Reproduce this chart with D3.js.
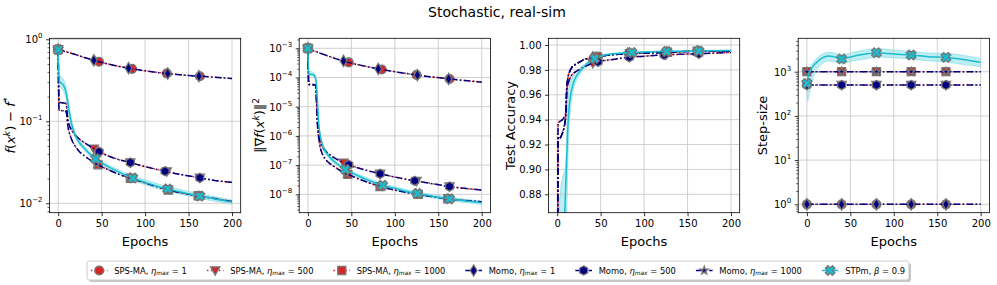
<!DOCTYPE html>
<html><head><meta charset="utf-8">
<script src="https://cdn.jsdelivr.net/npm/d3@7"></script>
<style>body{margin:0;background:#fff}svg{display:block;font-family:"DejaVu Sans",sans-serif}</style>
</head><body><svg id="c" width="997" height="285"></svg>
<script>
// ---------------- DATA ----------------
const epochs=[0,1,2,4,6,8,9,10,11,12,13,14,16,18,20,25,30,40,50,60,70,80,100,120,140,160,180,200];

const lossEta1=[0.75,0.745,0.74,0.73,0.72,0.71,0.705,0.70,0.695,0.69,0.685,0.68,0.67,0.66,0.65,0.625,0.60,0.558,0.522,0.492,0.467,0.446,0.412,0.388,0.37,0.356,0.344,0.333];
const lossEta500=[0.75,0.17,0.169,0.168,0.167,0.166,0.165,0.14,0.105,0.094,0.088,0.083,0.076,0.071,0.067,0.06,0.055,0.047,0.041,0.037,0.034,0.032,0.028,0.025,0.0225,0.0207,0.019,0.018];
const lossEta1000=[0.75,0.137,0.136,0.135,0.134,0.133,0.132,0.115,0.09,0.078,0.071,0.066,0.058,0.053,0.049,0.042,0.038,0.032,0.028,0.025,0.0225,0.0207,0.0177,0.0152,0.0135,0.0124,0.0114,0.0105];
const lossStp=[0.75,0.30,0.30,0.29,0.275,0.245,0.225,0.20,0.17,0.145,0.125,0.11,0.088,0.075,0.066,0.054,0.047,0.037,0.031,0.027,0.024,0.0215,0.018,0.0155,0.0138,0.0124,0.0113,0.0103];
const lossStpLo=[0.75,0.26,0.26,0.25,0.235,0.205,0.185,0.165,0.14,0.12,0.105,0.094,0.078,0.068,0.061,0.051,0.044,0.035,0.0293,0.0255,0.0226,0.0202,0.0168,0.0145,0.0129,0.0116,0.0106,0.0097];
const lossStpHi=[0.75,0.36,0.36,0.345,0.325,0.29,0.265,0.24,0.205,0.175,0.15,0.13,0.1,0.083,0.072,0.058,0.05,0.0392,0.0328,0.0286,0.0255,0.0229,0.0193,0.0166,0.0148,0.0133,0.0121,0.011];

const gradEta1=[1e-3,9.7e-4,9.4e-4,8.9e-4,8.4e-4,8e-4,7.8e-4,7.6e-4,7.4e-4,7.2e-4,7e-4,6.8e-4,6.5e-4,6.2e-4,5.9e-4,5.2e-4,4.6e-4,3.75e-4,3.1e-4,2.65e-4,2.3e-4,2.0e-4,1.58e-4,1.28e-4,1.07e-4,9.1e-5,7.9e-5,6.9e-5];
const gradEta500=[1e-3,5.8e-5,5.8e-5,5.7e-5,5.7e-5,5.6e-5,5.5e-5,1.5e-5,3e-6,1.4e-6,9e-7,6.5e-7,4.6e-7,3.7e-7,3.1e-7,2.3e-7,1.8e-7,1.25e-7,9.5e-8,7.6e-8,6.3e-8,5.3e-8,3.9e-8,3e-8,2.4e-8,1.9e-8,1.6e-8,1.4e-8];
const gradEta1000=[1e-3,5.8e-5,5.7e-5,5.7e-5,5.6e-5,5.5e-5,5.4e-5,1.2e-5,2.5e-6,1.1e-6,6.5e-7,4.3e-7,2.7e-7,2e-7,1.6e-7,1.15e-7,9e-8,5.9e-8,4.3e-8,3.2e-8,2.5e-8,1.95e-8,1.4e-8,1.07e-8,8.6e-9,7.1e-9,6.2e-9,5.6e-9];
const gradStp=[1e-3,1.3e-4,1.3e-4,1.3e-4,1.25e-4,1.1e-4,9e-5,5e-5,1.5e-5,4e-6,1.8e-6,1.1e-6,6e-7,4e-7,3e-7,1.9e-7,1.35e-7,8e-8,5.5e-8,4e-8,3e-8,2.3e-8,1.6e-8,1.15e-8,9e-9,7.2e-9,6e-9,5.1e-9];
const gradStpLo=[1e-3,1.15e-4,1.15e-4,1.15e-4,1.1e-4,9.5e-5,7.5e-5,3.8e-5,1.1e-5,3e-6,1.4e-6,8.8e-7,4.9e-7,3.3e-7,2.5e-7,1.6e-7,1.15e-7,6.9e-8,4.7e-8,3.4e-8,2.55e-8,1.95e-8,1.37e-8,9.9e-9,7.8e-9,6.2e-9,5.2e-9,4.5e-9];
const gradStpHi=[1e-3,1.6e-4,1.6e-4,1.6e-4,1.5e-4,1.3e-4,1.1e-4,6.5e-5,2e-5,5.3e-6,2.3e-6,1.4e-6,7.3e-7,4.8e-7,3.6e-7,2.2e-7,1.55e-7,9.2e-8,6.3e-8,4.6e-8,3.5e-8,2.65e-8,1.85e-8,1.32e-8,1.03e-8,8.2e-9,6.9e-9,5.8e-9];

const accEta1=[0.5,0.925,0.924,0.926,0.929,0.934,0.938,0.945,0.966,0.972,0.976,0.978,0.981,0.983,0.984,0.986,0.988,0.990,0.991,0.992,0.9925,0.993,0.9935,0.994,0.9945,0.995,0.995,0.995];
const accEta500=[0.5,0.937,0.938,0.939,0.940,0.942,0.943,0.946,0.962,0.967,0.970,0.972,0.975,0.977,0.978,0.980,0.982,0.985,0.987,0.988,0.989,0.990,0.991,0.992,0.9925,0.993,0.9935,0.994];
const accEta1000=[0.5,0.925,0.924,0.926,0.929,0.934,0.938,0.945,0.966,0.972,0.976,0.978,0.981,0.983,0.984,0.986,0.988,0.990,0.991,0.992,0.9925,0.993,0.9935,0.994,0.9945,0.995,0.995,0.995];
const accStp=[0.5,0.6,0.66,0.74,0.80,0.855,0.87,0.89,0.91,0.93,0.943,0.952,0.962,0.968,0.972,0.978,0.982,0.988,0.991,0.9925,0.9932,0.9938,0.9943,0.9947,0.995,0.9952,0.9954,0.9955];
const accStpLo=[0.5,0.5,0.55,0.62,0.70,0.76,0.80,0.83,0.86,0.895,0.92,0.935,0.952,0.961,0.967,0.975,0.98,0.987,0.990,0.9918,0.9926,0.9933,0.9939,0.9943,0.9946,0.9949,0.9951,0.9952];
const accStpHi=[0.5,0.80,0.86,0.885,0.893,0.898,0.90,0.91,0.935,0.955,0.963,0.968,0.972,0.975,0.977,0.981,0.984,0.989,0.992,0.9932,0.9938,0.9943,0.9947,0.9951,0.9954,0.9955,0.9957,0.9958];

const stepEpochs=[0,200];
const stepEta1=[1,1];
const stepEta500=[500,500];
const stepEta1000=[1000,1000];
const stepStp=[545,700,850,1050,1250,1400,1480,1540,1600,1680,1750,1820,1950,2050,2150,2260,2200,1950,2150,2380,2550,2690,2510,2380,2180,2110,1900,1630];
const stepStpLo=[545,220,260,400,600,800,900,1000,1080,1150,1230,1300,1430,1530,1620,1750,1700,1500,1700,1850,2000,2150,2050,1950,1750,1650,1450,1300];
const stepStpHi=[545,900,1050,1300,1500,1700,1800,1870,1950,2050,2150,2250,2400,2550,2650,2750,2700,2450,2650,2950,3200,3350,3100,2900,2650,2600,2350,2000];

// marker epochs per series (panels 1-3) and for the step-size panel
const markEpochs=[
  [0,47,85,125,163],  // SPS-MA eta 1
  [0,41,83,125,163],  // SPS-MA eta 500
  [0,46,83,127,161],  // SPS-MA eta 1000
  [0,41,81,126,162],  // Momo eta 1
  [0,47,83,123,163],  // Momo eta 500
  [0,44,82,125,162],  // Momo eta 1000
  [0,43,86,126,163]   // STPm
];
const markEpochsStep=[0,40,80,120,160];

const xTicks=[0,50,100,150,200];
const lossTicks=[1e-2,1e-1,1];
const gradTicks=[1e-8,1e-7,1e-6,1e-5,1e-4,1e-3];
const accTicks=[0.88,0.90,0.92,0.94,0.96,0.98,1.00];
const stepTicks=[1,10,100,1000];

const methodNames=["SPS-MA","SPS-MA","SPS-MA","Momo","Momo","Momo","STPm"];
const etaLabels=["1","500","1000","1","500","1000"];
const title="Stochastic, real-sim";
const xLabel="Epochs";

// ---------------- STYLE ----------------
const RED="#d62728", NAVY="#000080", CYAN="#17becf", EDGE="#767676";
const W=997;
const panelLefts=[49.5,299.2,548.5,798.2], plotW=191.2, plotTop=38.3, plotBottom=212.7;
const svg=d3.select("#c");

function plusX(a,w){
  const pts=[[-w,-a],[w,-a],[w,-w],[a,-w],[a,w],[w,w],[w,a],[-w,a],[-w,w],[-a,w],[-a,-w],[-w,-w]];
  const c=Math.SQRT1_2;
  return "M"+pts.map(([x,y])=>[(x-y)*c,(x+y)*c].map(v=>v.toFixed(2)).join(",")).join("L")+"Z";
}
function hexPath(r){
  const p=[];for(let k=0;k<6;k++){const a=(-90+60*k)*Math.PI/180;p.push([r*Math.cos(a),r*Math.sin(a)]);}
  return "M"+p.map(d=>d.map(v=>v.toFixed(2)).join(",")).join("L")+"Z";
}
const markerPaths={
  circle:d3.symbol(d3.symbolCircle,62)(),
  tri:"M-4.6,-3.6L4.6,-3.6L0,4.6Z",
  square:"M-4,-4H4V4H-4Z",
  thin:"M0,-5.6L3.4,0L0,5.6L-3.4,0Z",
  hex:hexPath(4.6),
  star:d3.symbol(d3.symbolStar,20)(),
  X:plusX(5,1.8)
};
const seriesStyle=[
  {color:RED,dash:"1.5,2.5",marker:"circle",fill:RED},
  {color:RED,dash:"1.5,2.5",marker:"tri",fill:RED},
  {color:RED,dash:"1.5,2.5",marker:"square",fill:RED},
  {color:NAVY,dash:"7,2.4,1.5,2.4",marker:"thin",fill:NAVY},
  {color:NAVY,dash:"7,2.4,1.5,2.4",marker:"hex",fill:NAVY},
  {color:NAVY,dash:"7,2.4,1.5,2.4",marker:"star",fill:NAVY},
  {color:CYAN,dash:null,marker:"X",fill:CYAN}
];

function mathText(sel,parts,size){
  let cur=0;
  parts.forEach(p=>{
    const fs=(p.sup||p.sub)?size*0.7:size;
    const sh=p.sup?-size*0.42:(p.sub?size*0.22:0);
    const t=sel.append("tspan").text(p.t).attr("font-size",fs);
    if(p.i) t.attr("font-style","italic");
    if(p.dx) t.attr("dx",p.dx);
    if(sh!==cur){t.attr("dy",sh-cur);cur=sh;}
  });
}

const panels=[
  {xs:epochs, series:[lossEta1,lossEta500,lossEta1000,lossEta1,lossEta500,lossEta1000,lossStp], lo:lossStpLo, hi:lossStpHi,
   log:true, domain:[Math.pow(10,-2.115),Math.pow(10,0.012)], ticks:lossTicks,
   ylabel:[{t:"f",i:1},{t:"("},{t:"x",i:1},{t:"k",i:1,sup:1},{t:") − "},{t:"f",i:1},{t:"*",sup:1}], ylx:15},
  {xs:epochs, series:[gradEta1,gradEta500,gradEta1000,gradEta1,gradEta500,gradEta1000,gradStp], lo:gradStpLo, hi:gradStpHi,
   log:true, domain:[Math.pow(10,-8.63),Math.pow(10,-2.658)], ticks:gradTicks,
   ylabel:[{t:"‖∇"},{t:"f",i:1},{t:"("},{t:"x",i:1},{t:"k",i:1,sup:1},{t:")‖"},{t:"2",sup:1}], ylx:264},
  {xs:epochs, series:[accEta1,accEta500,accEta1000,accEta1,accEta500,accEta1000,accStp], lo:accStpLo, hi:accStpHi,
   log:false, domain:[0.8652,1.0054], ticks:accTicks,
   ylabel:[{t:"Test Accuracy"}], ylx:515},
  {xs:epochs, constXs:stepEpochs, series:[stepEta1,stepEta500,stepEta1000,stepEta1,stepEta500,stepEta1000,stepStp], lo:stepStpLo, hi:stepStpHi,
   log:true, domain:[Math.pow(10,-0.19),Math.pow(10,3.756)], ticks:stepTicks,
   ylabel:[{t:"Step-size"}], ylx:767, markAll:markEpochsStep}
];

function pointAtX(node,tx){
  const L=node.getTotalLength();
  let lo=0,hi=L;
  for(let k=0;k<40;k++){const m=(lo+hi)/2;const p=node.getPointAtLength(m);if(p.x<tx)lo=m;else hi=m;}
  return node.getPointAtLength((lo+hi)/2);
}

const defs=svg.append("defs");
svg.append("rect").attr("width",W).attr("height",285).attr("fill","#fff");

panels.forEach((p,i)=>{
  const left=panelLefts[i], right=left+plotW;
  const x=d3.scaleLinear().domain([-10,210]).range([left,right]);
  const y=(p.log?d3.scaleLog():d3.scaleLinear()).domain(p.domain).range([plotBottom,plotTop]);
  const cid="clip"+i;
  defs.append("clipPath").attr("id",cid).append("rect").attr("x",left).attr("y",plotTop).attr("width",plotW).attr("height",plotBottom-plotTop);
  const g=svg.append("g");
  const content=g.append("g").attr("clip-path",`url(#${cid})`);
  // band
  const area=d3.area().x((d,j)=>x(p.xs[j])).y0((d,j)=>y(p.lo[j])).y1((d,j)=>y(p.hi[j])).curve(d3.curveMonotoneX);
  content.append("path").attr("d",area(p.lo)).attr("fill",CYAN).attr("fill-opacity",0.28)
    .attr("stroke",CYAN).attr("stroke-opacity",0.35).attr("stroke-width",0.8);
  // grid
  const grid=content.append("g").attr("stroke","#cbcbcb").attr("stroke-width",0.9);
  xTicks.forEach(t=>grid.append("line").attr("x1",x(t)).attr("x2",x(t)).attr("y1",plotTop).attr("y2",plotBottom));
  p.ticks.forEach(t=>grid.append("line").attr("x1",left).attr("x2",right).attr("y1",y(t)).attr("y2",y(t)));
  // series
  p.series.forEach((vals,s)=>{
    const st=seriesStyle[s];
    const xs=(p.constXs && s<6)?p.constXs:p.xs;
    const line=d3.line().x((d,j)=>x(xs[j])).y(d=>y(d)).curve(d3.curveMonotoneX);
    const path=content.append("path").attr("d",line(vals)).attr("fill","none").attr("stroke",st.color).attr("stroke-width",1.5);
    if(st.dash) path.attr("stroke-dasharray",st.dash);
    const me=p.markAll?p.markAll:markEpochs[s];
    me.forEach(e=>{
      const pt=pointAtX(path.node(),x(e));
      content.append("path").attr("d",markerPaths[st.marker]).attr("transform",`translate(${pt.x},${pt.y})`)
        .attr("fill",st.fill).attr("stroke",EDGE).attr("stroke-width",1.3);
    });
  });
  // spines
  g.append("rect").attr("x",left).attr("y",plotTop).attr("width",plotW).attr("height",plotBottom-plotTop)
    .attr("fill","none").attr("stroke","#000").attr("stroke-width",0.8);
  // x axis
  const xa=g.append("g").attr("transform",`translate(0,${plotBottom})`)
    .call(d3.axisBottom(x).tickValues(xTicks).tickSize(3.5).tickPadding(3.5).tickFormat(d3.format("d")));
  xa.select(".domain").remove();
  xa.selectAll("text").attr("font-size",10).attr("font-family","DejaVu Sans").attr("fill","#000");
  xa.selectAll("line").attr("stroke","#000").attr("stroke-width",0.8);
  // y axis
  const ya=g.append("g").attr("transform",`translate(${left},0)`)
    .call(d3.axisLeft(y).tickValues(p.ticks).tickSize(3.5).tickPadding(3.5).tickFormat(p.log?(()=>""):d3.format(".2f")));
  ya.select(".domain").remove();
  ya.selectAll("text").attr("font-size",10).attr("font-family","DejaVu Sans").attr("fill","#000");
  ya.selectAll("line").attr("stroke","#000").attr("stroke-width",0.8);
  if(p.log){
    const lo=Math.floor(Math.log10(p.domain[0])), hi=Math.ceil(Math.log10(p.domain[1]));
    const minors=[];
    for(let d=lo;d<=hi;d++)for(let k=2;k<=9;k++){const v=k*Math.pow(10,d);if(v>p.domain[0]&&v<p.domain[1])minors.push(v);}
    const ym=g.append("g").attr("transform",`translate(${left},0)`)
      .call(d3.axisLeft(y).tickValues(minors).tickSize(2).tickFormat(()=>""));
    ym.select(".domain").remove();
    ym.selectAll("line").attr("stroke","#000").attr("stroke-width",0.6);
    p.ticks.forEach(t=>{
      const e=Math.round(Math.log10(t));
      const tx=g.append("text").attr("x",left-7).attr("y",y(t)+4).attr("text-anchor","end").attr("font-size",10).attr("fill","#000");
      tx.append("tspan").text("10");
      tx.append("tspan").text(String(e).replace("-","−")).attr("font-size",7).attr("dy",-5);
    });
  }
  // labels
  g.append("text").attr("x",(left+right)/2).attr("y",245.5).attr("text-anchor","middle").attr("font-size",13).attr("fill","#000").text(xLabel);
  const yl=g.append("text").attr("transform",`translate(${p.ylx},${(plotTop+plotBottom)/2}) rotate(-90)`)
    .attr("text-anchor","middle").attr("font-size",13).attr("fill","#000");
  mathText(yl,p.ylabel,13);
});

// title
svg.append("text").attr("x",497).attr("y",17.3).attr("text-anchor","middle").attr("font-size",14).attr("fill","#000").text(title);

// legend (font 'small' = 8.33px)
const LF=8.33, HL=2*LF, HP=0.8*LF, CS=20, BP=0.4*LF, EQ=2.8;
const lg=svg.append("g");
const entries=lg.selectAll("g.e").data(d3.range(7)).enter().append("g");
const textWidths=[];
entries.each(function(s){
  const e=d3.select(this);
  const st=seriesStyle[s];
  const h=e.append("line").attr("x1",0).attr("x2",HL).attr("y1",0).attr("y2",0).attr("stroke",st.color).attr("stroke-width",1.5);
  if(st.dash) h.attr("stroke-dasharray",st.dash);
  e.append("path").attr("d",markerPaths[st.marker]).attr("transform",`translate(${HL/2},0)`).attr("fill",st.fill).attr("stroke",EDGE).attr("stroke-width",1.3);
  const t=e.append("text").attr("x",HL+HP).attr("y",3).attr("font-size",LF).attr("fill","#000");
  if(s<6) mathText(t,[{t:methodNames[s]+", "},{t:"η",i:1},{t:"max",i:1,sub:1},{t:"=",dx:EQ},{t:etaLabels[s],dx:EQ}],LF);
  else mathText(t,[{t:methodNames[s]+", "},{t:"β",i:1},{t:"=",dx:EQ},{t:"0.9",dx:EQ}],LF);
  textWidths.push(t.node().getBBox().width);
});
const widths=textWidths.map(w=>HL+HP+w);
const total=d3.sum(widths)+CS*6;
const startX=498-total/2;
const legY=270.5;
let cx=startX;
entries.each(function(s){d3.select(this).attr("transform",`translate(${cx},${legY})`);cx+=widths[s]+CS;});
const bx=startX-BP-0.5, bw=total+2*BP+1;
lg.insert("rect",":first-child").attr("x",bx).attr("y",261).attr("width",bw).attr("height",19).attr("rx",2.5)
  .attr("fill","#fff").attr("stroke","#cccccc").attr("stroke-width",1);
lg.insert("rect",":first-child").attr("x",bx+2).attr("y",263).attr("width",bw).attr("height",19).attr("rx",2.5)
  .attr("fill","#888").attr("fill-opacity",0.5);
</script></body></html>
